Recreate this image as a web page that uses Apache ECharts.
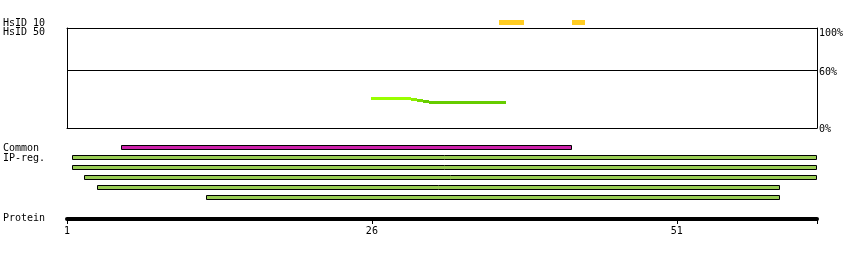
<!DOCTYPE html>
<html>
<head>
<meta charset="utf-8">
<script src="https://cdn.jsdelivr.net/npm/echarts@6/dist/echarts.min.js"></script>
<style>
html,body{margin:0;padding:0;background:#fff;}
#chart{width:850px;height:260px;}
</style>
</head>
<body>
<div id="chart"></div>
<script>
// ---- data ----
const axisMin = 1;
const axisMax = 62.5;
const residueTicks = [1, 26, 51];
const trackLabels = ['HsID 10', 'HsID 50', 'Common', 'IP-reg.', 'Protein'];
// HsID 10 hits (start, end in residue units)
const hsid10Start = [36.4, 42.4];
const hsid10End = [38.5, 43.5];
// HsID 50 identity profile (horizontal steps)
const stepStart = [25.9, 29.2, 29.7, 30.2, 30.7];
const stepEnd = [29.2, 29.7, 30.2, 30.7, 37.0];
const stepIdentity = [30, 29, 28, 27, 26];
const stepColors = ['#99ff00', '#8cee00', '#77dd00', '#66cc00', '#66cc00'];
// identity scale
const identityTickPos = [0, 57.5, 100];
const identityTickLabels = ['0%', '60%', '100%'];
// Common region
const commonStart = [5.4];
const commonEnd = [42.4];
// IP-reg. regions
const ipStart = [1.4, 1.4, 2.4, 3.5, 12.4];
const ipEnd = [62.5, 62.5, 62.5, 59.5, 59.5];

const FONT = '"DejaVu Sans Mono", monospace';
const labelY = [23, 32.5, 148, 158.5, 218.5];

const chart = echarts.init(document.getElementById('chart'), null, {renderer: 'canvas'});

const hsid10Data = hsid10Start.map((s, i) => [s, hsid10End[i], 0.5]);
const stepData = stepStart.map((s, i) => [s, stepEnd[i], stepIdentity[i], i]);
const regionData = [];
commonStart.forEach((s, i) => regionData.push([s, commonEnd[i], 0, 0]));
ipStart.forEach((s, i) => regionData.push([s, ipEnd[i], i + 1, 1]));

const lineAxis = {show: true, onZero: false, lineStyle: {color: '#000', width: 1}};
const hiddenX = (g) => ({gridIndex: g, type: 'value', min: axisMin, max: axisMax, show: false});

const option = {
  animation: false,
  backgroundColor: '#fff',
  textStyle: {fontFamily: FONT},
  graphic: trackLabels.map((t, i) => ({
    type: 'text', x: 3, y: labelY[i],
    style: {text: t, fill: '#000', font: '10px ' + FONT, verticalAlign: 'middle'}
  })),
  grid: [
    {left: 67, width: 750, top: 20, height: 5},
    {left: 67, width: 750, top: 28, height: 100},
    {left: 67, width: 750, top: 142, height: 60},
    {left: 67, width: 750, top: 189, height: 30}
  ],
  xAxis: [
    hiddenX(0),
    {gridIndex: 1, type: 'value', min: axisMin, max: axisMax, position: 'bottom',
      axisLine: lineAxis, axisTick: {show: false}, axisLabel: {show: false}, splitLine: {show: false}},
    {gridIndex: 1, type: 'value', min: axisMin, max: axisMax, position: 'top',
      axisLine: lineAxis, axisTick: {show: false}, axisLabel: {show: false}, splitLine: {show: false}},
    hiddenX(2),
    {gridIndex: 3, type: 'value', min: axisMin, max: axisMax, position: 'bottom',
      axisLine: {show: true, onZero: false, lineStyle: {color: '#000', width: 4}},
      axisTick: {show: true, length: 5, customValues: residueTicks.concat([axisMax]), lineStyle: {color: '#000', width: 1}},
      axisLabel: {show: true, customValues: residueTicks, margin: 7, color: '#000', fontSize: 10, fontFamily: FONT,
        formatter: v => String(v)},
      splitLine: {show: false}}
  ],
  yAxis: [
    {gridIndex: 0, type: 'value', min: 0, max: 1, show: false},
    {gridIndex: 1, type: 'value', min: 0, max: 100, position: 'left',
      axisLine: lineAxis, axisTick: {show: false}, axisLabel: {show: false}, splitLine: {show: false}},
    {gridIndex: 1, type: 'value', min: 0, max: 100, position: 'right',
      axisLine: lineAxis, axisTick: {show: false}, splitLine: {show: false},
      axisLabel: {show: true, customValues: identityTickPos, margin: 2, color: '#000', fontSize: 10, fontFamily: FONT,
        formatter: v => {
          const i = identityTickPos.indexOf(v);
          const t = identityTickLabels[i];
          return v === 100 ? '{t|' + t + '}' : '{n|' + t + '}';
        },
        rich: {
          t: {padding: [10, 0, 0, 0], fontSize: 10, fontFamily: FONT, color: '#000'},
          n: {padding: [3, 0, 0, 0], fontSize: 10, fontFamily: FONT, color: '#000'}
        }}},
    {gridIndex: 2, type: 'value', min: -0.5, max: 5.5, inverse: true, show: false},
    {gridIndex: 3, type: 'value', min: 0, max: 1, show: false}
  ],
  series: [
    {
      type: 'custom', xAxisIndex: 0, yAxisIndex: 0, data: hsid10Data,
      encode: {x: [0, 1], y: 2},
      renderItem: (params, api) => {
        const s = api.coord([api.value(0), api.value(2)]);
        const e = api.coord([api.value(1), api.value(2)]);
        return {type: 'rect', shape: {x: Math.round(s[0]), y: Math.round(s[1] - 2.5), width: Math.round(e[0]) - Math.round(s[0]), height: 5},
          style: {fill: '#ffcc22'}};
      }
    },
    {
      type: 'custom', xAxisIndex: 1, yAxisIndex: 1, data: stepData,
      encode: {x: [0, 1], y: 2},
      renderItem: (params, api) => {
        const s = api.coord([api.value(0), api.value(2)]);
        const e = api.coord([api.value(1), api.value(2)]);
        return {type: 'rect', shape: {x: Math.round(s[0]), y: Math.round(s[1] - 1.5), width: Math.round(e[0]) - Math.round(s[0]), height: 3},
          style: {fill: stepColors[api.value(3)]}};
      },
      markLine: {
        silent: true, symbol: ['none', 'none'], label: {show: false},
        lineStyle: {color: '#000', width: 1, type: 'solid'},
        data: [{yAxis: identityTickPos[1]}]
      }
    },
    {
      type: 'custom', xAxisIndex: 3, yAxisIndex: 3, data: regionData,
      encode: {x: [0, 1], y: 2},
      renderItem: (params, api) => {
        const kind = api.value(3);
        const s = api.coord([api.value(0), api.value(2)]);
        const e = api.coord([api.value(1), api.value(2)]);
        const h = 4;
        const x0 = Math.round(s[0]) + 0.5;
        const x1 = Math.round(e[0]) - 0.5;
        const y0 = Math.round(s[1] - h / 2) + 0.5;
        return {type: 'rect', shape: {x: x0, y: y0, width: x1 - x0, height: h},
          style: {fill: kind === 0 ? '#cc22aa' : '#99cc55', stroke: '#000', lineWidth: 1}};
      }
    }
  ]
};
chart.setOption(option);
</script>
</body>
</html>
